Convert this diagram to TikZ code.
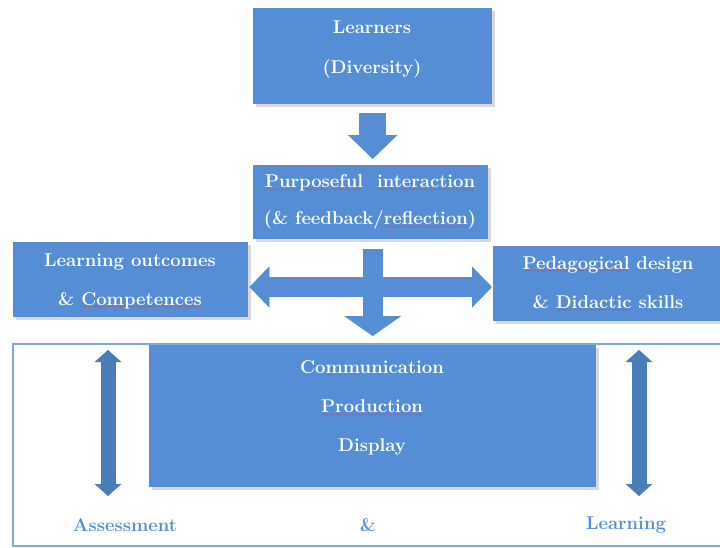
\documentclass[tikz,border=0pt]{standalone}
\usepackage{fontspec}
\usepackage{xcolor}
\usetikzlibrary{arrows.meta,shadows}
\definecolor{BoxBlue}{HTML}{558ED5}
\definecolor{ArrowBlue}{HTML}{4A7EBB}
\definecolor{FrameBlue}{HTML}{7FAAE0}
\definecolor{CursorOrange}{HTML}{C0762F}
\definecolor{SpellRed}{HTML}{E03030}
% red wavy underline under flagged words
\font\wavefont=lasy6
\newsavebox{\spellbox}
\newcommand{\spell}[1]{\sbox{\spellbox}{#1}%
  \rlap{\color{SpellRed}\lower3.5pt\hbox to\wd\spellbox{\cleaders\hbox{\wavefont\char58}\hfil}}\usebox{\spellbox}}

\tikzset{
  box/.style={fill=BoxBlue, inner sep=0pt, anchor=north west,
    drop shadow={shadow xshift=2.5pt, shadow yshift=-2.5pt, opacity=0.3}},
  boxtext/.style={text=white, align=center, font=\fontsize{18.5}{39}\selectfont\bfseries},
  sidetext/.style={text=BoxBlue, font=\fontsize{18.5}{20}\selectfont\bfseries},
  frame/.style={draw=FrameBlue, line width=2.5pt}
}

\begin{document}
\begin{tikzpicture}[x=1pt,y=-1pt]
   \useasboundingbox (0,0) rectangle (720,547);
   \draw[frame] (13,344) rectangle (735,546);
   \coordinate (mid) at (372,287);
   \foreach \name/\x in {assess/108,learn/639} {
     \coordinate (\name-top) at (\x,350);
     \coordinate (\name-bot) at (\x,496);
   }
   % boxes
   \node[box, minimum width=239pt, minimum height=96pt] (learners) at (253,8) {};
   \node[box, minimum width=235pt, minimum height=74pt] (interaction) at (253,165) {};
   \node[box, minimum width=235pt, minimum height=75pt] (outcomes) at (13,242) {};
   \node[box, minimum width=235pt, minimum height=75pt] (pedagogy) at (493,246) {};
   \node[box, minimum width=447pt, minimum height=142pt] (product) at (149,345) {};
   % block arrows, grey pass first then blue
   \foreach \off/\inkA/\inkB in {2.5/black!22/black!22, 0/BoxBlue/ArrowBlue} {
     \begin{scope}[shift={(\off,\off)}]
       \draw[draw=\inkA, line width=27pt, -{Triangle[length=24pt,width=48pt]},
         shorten <=9pt, shorten >=6pt] (learners.south) -- (learners.south |- interaction.north);
       \draw[draw=\inkA, line width=20pt, {Triangle[length=20pt,width=40pt]}-{Triangle[length=20pt,width=40pt]},
         shorten <=1pt, shorten >=1pt] (outcomes.east |- mid) -- (pedagogy.west |- mid);
       \draw[draw=\inkA, line width=20pt, -{Triangle[length=20pt,width=56pt]},
         shorten <=10pt, shorten >=9pt] (product.north |- interaction.south) -- (product.north);
       \draw[draw=\inkB, line width=15pt, {Triangle[length=12pt,width=26pt]}-{Triangle[length=12pt,width=26pt]}]
         (assess-top) -- (assess-bot);
       \draw[draw=\inkB, line width=15pt, {Triangle[length=12pt,width=26pt]}-{Triangle[length=12pt,width=26pt]}]
         (learn-top) -- (learn-bot);
     \end{scope}
   }
   % texts
   \node[boxtext, font=\fontsize{18.5}{40}\selectfont\bfseries] (learnersText) at (372,49) {Learners\\(Diversity)};
   \draw[CursorOrange, line width=0.8pt] (417,20) -- (417,41);
   \node[boxtext, font=\fontsize{18.5}{37}\selectfont\bfseries] (interactionText) at (370,202)
     {\spell{Purposeful}\ \ \spell{interaction}\\(\& feedback/\spell{reflection})};
   \node[boxtext] (outcomesText) at (130,281) {Learning \spell{outcomes}\\\& \spell{Competences}};
   \node[boxtext] (pedagogyText) at (608,284) {\spell{Pedagogical} design\\\& \spell{Didactic} skills};
   \node[boxtext] (productText) at (372,408) {Communication\\\spell{Production}\\Display};
   \node[sidetext] (assessText) at (125,525) {Assessment};
   \node[sidetext] (andText) at (368,525) {\&};
   \node[sidetext] (learnText) at (626,525) {Learning};
\end{tikzpicture}
\end{document}
